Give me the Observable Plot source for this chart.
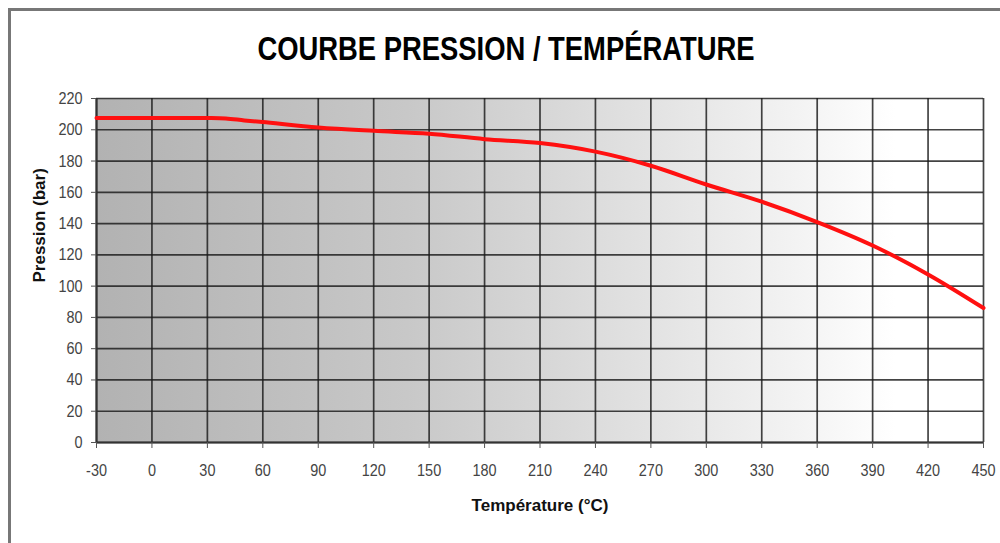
<!DOCTYPE html>
<html><head><meta charset="utf-8">
<script src="https://cdn.jsdelivr.net/npm/d3@7"></script>
<script src="https://cdn.jsdelivr.net/npm/@observablehq/plot@0.6"></script>
<style>
body{margin:0;background:#fff;width:1000px;height:543px;overflow:hidden;position:relative;font-family:"Liberation Sans","Arial",sans-serif;}
#frame{position:absolute;left:8px;top:8px;width:1000px;height:600px;border-left:3px solid #777;border-top:3px solid #777;box-sizing:border-box;}
#title{position:absolute;left:0;top:29px;width:1012px;text-align:center;font-weight:bold;font-size:33px;line-height:40px;color:#000;transform:scaleX(0.83);transform-origin:506px 0;}
#chart{position:absolute;left:0;top:80px;}
</style>
</head><body>
<div id="frame"></div>
<div id="title">COURBE PRESSION / TEMPÉRATURE</div>
<div id="chart"></div>
<script>
const temperatures = [-30, 0, 30, 40, 50, 60, 90, 120, 150, 180, 210, 240, 270, 300, 330, 360, 390, 420, 450];
const pressures    = [207.5, 207.5, 207.5, 207.2, 206, 205, 201.5, 199.3, 197.5, 194, 191.5, 186, 177, 165, 154, 141, 126, 107.5, 86];
const xTicks = [-30, 0, 30, 60, 90, 120, 150, 180, 210, 240, 270, 300, 330, 360, 390, 420, 450];
const yTicks = [0, 20, 40, 60, 80, 100, 120, 140, 160, 180, 200, 220];
const xLabel = "Température (°C)";
const yLabel = "Pression (bar)";

const data = temperatures.map((t, i) => ({t, p: pressures[i]}));
const font = '"Liberation Sans","Arial",sans-serif';

const svg = Plot.plot({
  width: 1000,
  height: 463,
  marginTop: 18,
  marginBottom: 101,
  marginLeft: 96,
  marginRight: 17,
  style: {fontFamily: font, background: "transparent", overflow: "visible"},
  x: {domain: [-30, 450]},
  y: {domain: [0, 220]},
  marks: [
    Plot.frame({fill: "url(#bggrad)", stroke: null}),
    Plot.gridX(xTicks, {stroke: "#1a1a1a", strokeOpacity: 0.82, strokeWidth: 1.7}),
    Plot.gridY(yTicks, {stroke: "#1a1a1a", strokeOpacity: 0.82, strokeWidth: 1.7}),
    Plot.ruleY([0], {stroke: "#333", strokeWidth: 2}),
    Plot.ruleX([-30], {stroke: "#333", strokeWidth: 2}),
    Plot.axisX({ticks: xTicks, tickFormat: d => String(d), label: null, tickSize: 6, tickPadding: 15, fontSize: 17, color: "#444", stroke: "#555"}),
    Plot.axisY({ticks: yTicks, tickFormat: d => String(d), label: null, tickSize: 5, tickPadding: 9, fontSize: 17, color: "#444", stroke: "#555"}),
    Plot.line(data, {x: "t", y: "p", stroke: "#ff1010", strokeWidth: 4, curve: "catmull-rom"}),
    Plot.text([yLabel], {text: d => d, frameAnchor: "left", dx: -57, dy: 12, rotate: -90, fontWeight: "bold", fontSize: 17, fill: "#111"}),
    Plot.text([xLabel], {text: d => d, frameAnchor: "bottom", dy: 68, fontWeight: "bold", fontSize: 17, fill: "#111"})
  ]
});

// condensed look for tick labels (Arial Narrow style)
svg.querySelectorAll('g[aria-label="x-axis tick label"] text, g[aria-label="y-axis tick label"] text').forEach(t => {
  const tr = t.getAttribute("transform") || "";
  t.setAttribute("transform", tr + " scale(0.85,1)");
});

const ns = "http://www.w3.org/2000/svg";
const defs = document.createElementNS(ns, "defs");
const grad = document.createElementNS(ns, "linearGradient");
grad.setAttribute("id", "bggrad");
grad.setAttribute("x1", "0"); grad.setAttribute("x2", "1");
grad.setAttribute("y1", "0"); grad.setAttribute("y2", "0");
[["0", "#b2b2b2"], ["0.35", "#c8c8c8"], ["0.62", "#e2e2e2"], ["0.8", "#f4f4f4"], ["0.9", "#ffffff"], ["1", "#ffffff"]].forEach(([o, c]) => {
  const s = document.createElementNS(ns, "stop");
  s.setAttribute("offset", o); s.setAttribute("stop-color", c);
  grad.appendChild(s);
});
defs.appendChild(grad);
svg.insertBefore(defs, svg.firstChild);
document.getElementById("chart").appendChild(svg);
</script>
</body></html>
